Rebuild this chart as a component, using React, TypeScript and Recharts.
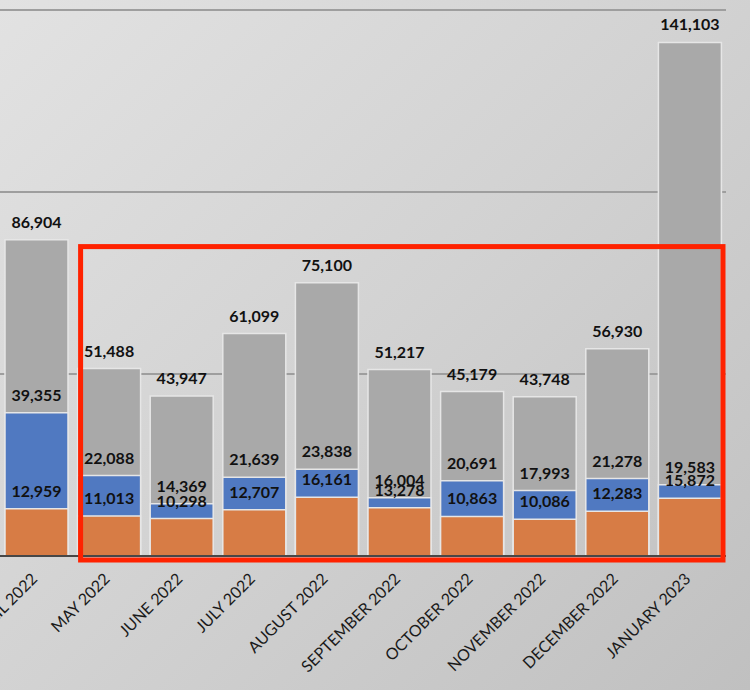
import { BarChart, Bar, XAxis, YAxis, CartesianGrid, LabelList, ReferenceArea } from "recharts";

const MONTHS = [
  "APRIL 2022",
  "MAY 2022",
  "JUNE 2022",
  "JULY 2022",
  "AUGUST 2022",
  "SEPTEMBER 2022",
  "OCTOBER 2022",
  "NOVEMBER 2022",
  "DECEMBER 2022",
  "JANUARY 2023",
];

const TOTAL = [86904, 51488, 43947, 61099, 75100, 51217, 45179, 43748, 56930, 141103];
const MIDDLE = [39355, 22088, 14369, 21639, 23838, 16004, 20691, 17993, 21278, 19583];
const BASE = [12959, 11013, 10298, 12707, 16161, 13278, 10863, 10086, 12283, 15872];

const Y_TICKS = [0, 50000, 100000, 150000];

const data = MONTHS.map((m, i) => ({
  month: m,
  total: TOTAL[i],
  middle: MIDDLE[i],
  base: BASE[i],
}));

const fmt = (v: number) => Number(v).toLocaleString("en-US");

const labelStyle = {
  fontFamily: "Lato, 'Open Sans', sans-serif",
  fontWeight: 700,
  fontSize: 16,
  fill: "#111",
};

function MonthTick({ x, y, payload }: any) {
  const tx = x + 2;
  const ty = y + 24;
  return (
    <text
      x={tx}
      y={ty}
      transform={`rotate(-45, ${tx}, ${ty})`}
      textAnchor="end"
      fill="#1a1a1a"
      fontSize={16}
      fontFamily="Lato, 'Open Sans', sans-serif"
    >
      {payload.value}
    </text>
  );
}

// red highlight box, pulled in a little to hug the bars
function Highlight(props: any) {
  const { x, y, width, height } = props;
  return (
    <rect
      x={x + 8}
      y={y}
      width={width - 11}
      height={height}
      fill="none"
      stroke="#ff2200"
      strokeWidth={5}
    />
  );
}

export default function App() {
  return (
    <div
      style={{
        position: "absolute",
        left: 0,
        top: 0,
        width: 750,
        height: 690,
        background: "linear-gradient(135deg, #e2e2e2 0%, #d2d2d2 50%, #c0c0c0 100%)",
      }}
    >
      <BarChart
        width={750}
        height={690}
        data={data}
        margin={{ top: 10, right: 24, bottom: 0, left: 0 }}
        barSize={63}
        barGap={-63}
      >
        <CartesianGrid vertical={false} stroke="#9e9e9e" strokeWidth={2} />
        <XAxis
          dataKey="month"
          interval={0}
          height={134}
          tickLine={false}
          tickSize={0}
          tickMargin={0}
          axisLine={{ stroke: "#474747", strokeWidth: 2 }}
          tick={<MonthTick />}
        />
        <YAxis hide domain={[0, 150000]} ticks={Y_TICKS} />
        <Bar dataKey="total" fill="#a9a9a9" stroke="#e6e6e6" strokeWidth={1.5} isAnimationActive={false}>
          <LabelList dataKey="total" position="top" offset={12} formatter={fmt} style={labelStyle} />
        </Bar>
        <Bar dataKey="middle" fill="#5079c1" stroke="#e6e6e6" strokeWidth={1.5} isAnimationActive={false}>
          <LabelList dataKey="middle" position="top" offset={12} formatter={fmt} style={labelStyle} />
        </Bar>
        <Bar dataKey="base" fill="#d77c45" stroke="#e6e6e6" strokeWidth={1.5} isAnimationActive={false}>
          <LabelList dataKey="base" position="top" offset={12} formatter={fmt} style={labelStyle} />
        </Bar>
        <ReferenceArea
          x1="MAY 2022"
          x2="JANUARY 2023"
          y1={-1100}
          y2={85000}
          ifOverflow="visible"
          isFront
          {...({ zIndex: 1500 } as any)}
          shape={<Highlight />}
        />
      </BarChart>
    </div>
  );
}
